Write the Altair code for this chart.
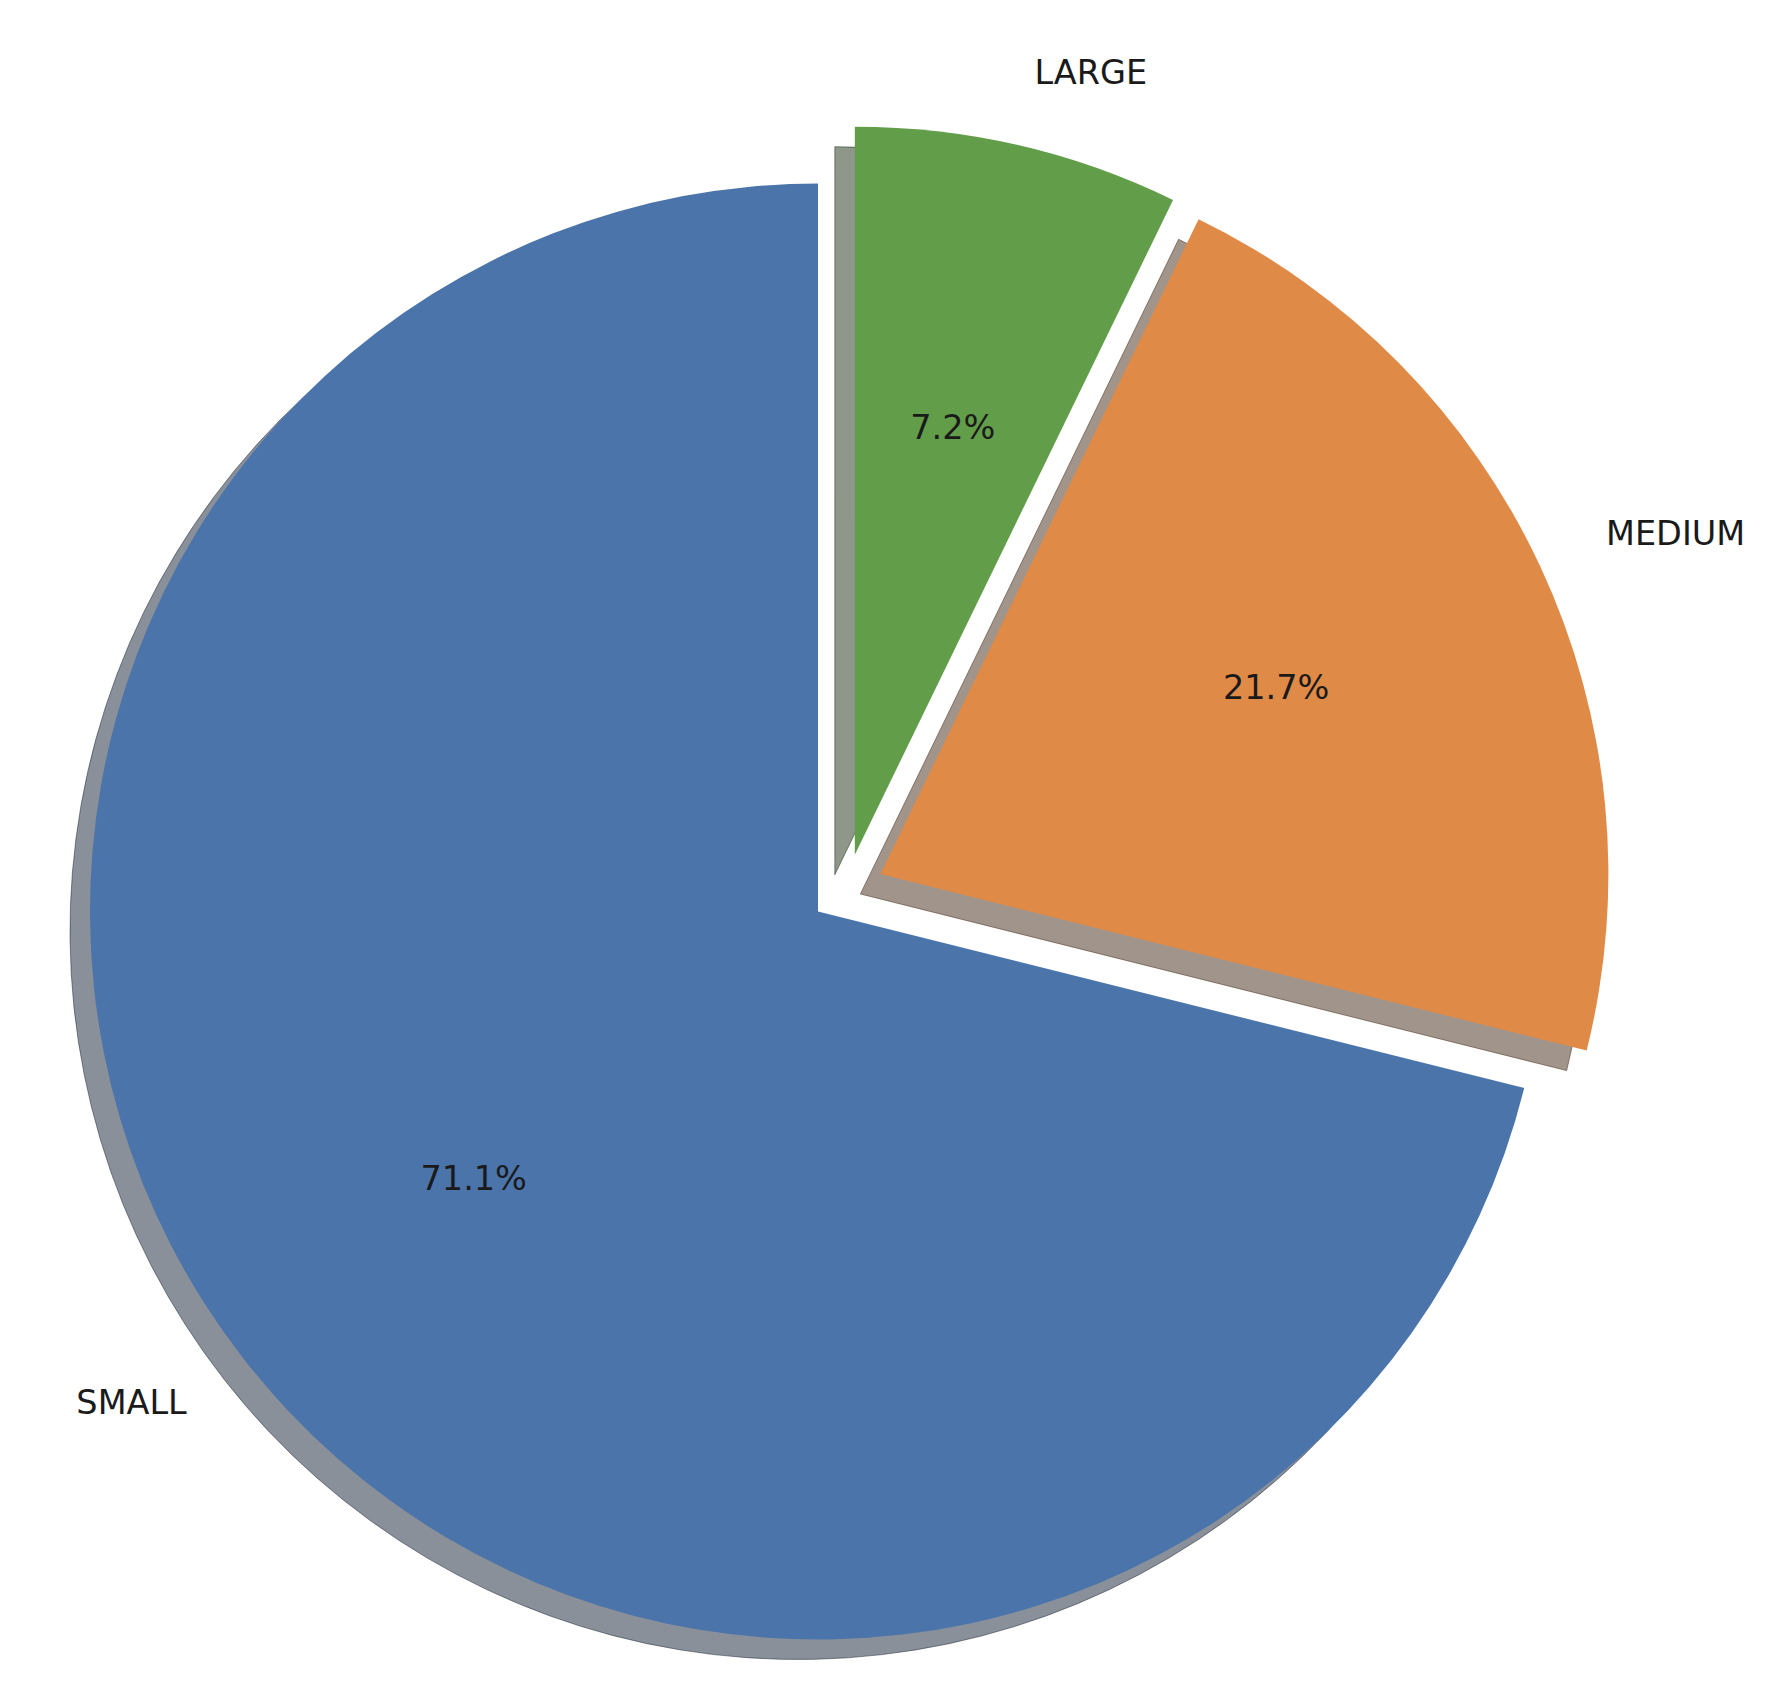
import altair as alt
import pandas as pd

# ---- data ----
categories = ["LARGE", "MEDIUM", "SMALL"]
shares = [7.2, 21.7, 71.1]
pct_labels = ["7.2%", "21.7%", "71.1%"]

# ---- style ----
explode = [0.093, 0.1, 0.0]        # fraction of radius
explode_turn = [20, -6, 0]         # degrees the explode direction departs from the bisector
colors = ["#629E4A", "#E08A48", "#4A74AA"]


def shade(hexc, k=0.3):
    r, g, b = (int(hexc[i:i + 2], 16) for i in (1, 3, 5))
    return "#{:02x}{:02x}{:02x}".format(int(r * k), int(g * k), int(b * k))


shadow_colors = [shade(c) for c in colors]

W, H = 1754, 1676
CX, CY, R = 810, 903.5, 728
SHADOW_DX, SHADOW_DY = -20, 20
LABEL_DIST, PCT_DIST = 1.1, 0.6
FONT = "DejaVu Sans"
FS = 33.5
TXT = "#1a1a1a"

df = pd.DataFrame({
    "cat": categories,
    "share": shares,
    "pct": pct_labels,
    "explode": explode,
    "turn": explode_turn,
    "idx": list(range(len(categories))),
})

base = (
    alt.Chart(df)
    .transform_window(cum="sum(share)", sort=[alt.SortField("idx")], frame=[None, 0])
    .transform_joinaggregate(total="sum(share)")
    .transform_calculate(t1="2*PI*datum.cum/datum.total")
    .transform_calculate(t0="2*PI*(datum.cum-datum.share)/datum.total")
    .transform_calculate(mid="(datum.t0+datum.t1)/2")
    .transform_calculate(ed="datum.mid + datum.turn*PI/180")
    .transform_calculate(wx=f"{CX} + datum.explode*{R}*sin(datum.ed)")
    .transform_calculate(wy=f"{CY} - datum.explode*{R}*cos(datum.ed)")
    .transform_calculate(sx=f"datum.wx + ({SHADOW_DX})")
    .transform_calculate(sy=f"datum.wy + ({SHADOW_DY})")
    .transform_calculate(lx=f"datum.wx + {LABEL_DIST * R}*sin(datum.mid)")
    .transform_calculate(ly=f"datum.wy - {LABEL_DIST * R}*cos(datum.mid)")
    .transform_calculate(px=f"datum.wx + {PCT_DIST * R}*sin(datum.mid)")
    .transform_calculate(py=f"datum.wy - {PCT_DIST * R}*cos(datum.mid)")
    .transform_calculate(side=f"datum.lx >= {CX} ? 'left' : 'right'")
)

shadow = base.mark_arc(
    radius=R, fillOpacity=0.5, strokeOpacity=0.5, strokeWidth=1
).encode(
    x=alt.X("sx:Q", scale=None, axis=None),
    y=alt.Y("sy:Q", scale=None, axis=None),
    theta=alt.Theta("t0:Q", scale=None),
    theta2=alt.Theta2("t1:Q"),
    fill=alt.Fill("cat:N", scale=alt.Scale(domain=categories, range=shadow_colors), legend=None),
    stroke=alt.Stroke("cat:N", scale=alt.Scale(domain=categories, range=shadow_colors), legend=None),
)

wedges = base.mark_arc(radius=R, strokeWidth=0).encode(
    x=alt.X("wx:Q", scale=None, axis=None),
    y=alt.Y("wy:Q", scale=None, axis=None),
    theta=alt.Theta("t0:Q", scale=None),
    theta2=alt.Theta2("t1:Q"),
    color=alt.Color("cat:N", scale=alt.Scale(domain=categories, range=colors), legend=None),
)

labels_left = base.transform_filter("datum.side == 'left'").mark_text(
    align="left", baseline="middle", font=FONT, fontSize=FS, color=TXT
).encode(
    x=alt.X("lx:Q", scale=None, axis=None),
    y=alt.Y("ly:Q", scale=None, axis=None),
    text="cat:N",
)

labels_right = base.transform_filter("datum.side == 'right'").mark_text(
    align="right", baseline="middle", font=FONT, fontSize=FS, color=TXT
).encode(
    x=alt.X("lx:Q", scale=None, axis=None),
    y=alt.Y("ly:Q", scale=None, axis=None),
    text="cat:N",
)

pcts = base.mark_text(
    align="center", baseline="middle", font=FONT, fontSize=FS, color=TXT
).encode(
    x=alt.X("px:Q", scale=None, axis=None),
    y=alt.Y("py:Q", scale=None, axis=None),
    text="pct:N",
)

chart = (
    alt.layer(shadow, wedges, labels_left, labels_right, pcts)
    .resolve_scale(fill="independent", stroke="independent", color="independent")
    .properties(width=W, height=H, autosize=alt.AutoSizeParams(type="none"), padding=0, background="white")
    .configure_view(stroke=None)
)

chart.save("out.html", embed_options={"renderer": "svg", "actions": False})
